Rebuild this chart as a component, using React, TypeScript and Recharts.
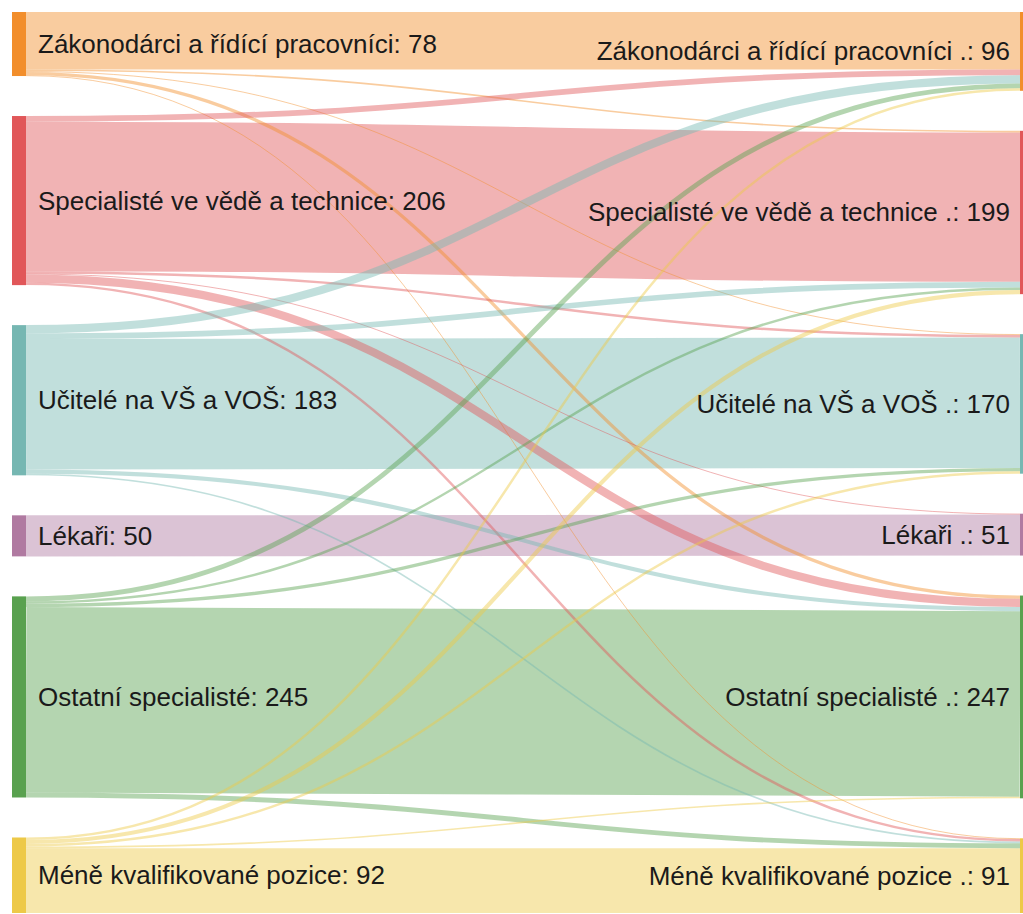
import { Sankey } from 'recharts';

// ── Data ───────────────────────────────────────────────────────────────────

const CATEGORIES = [
  'Zákonodárci a řídící pracovníci',
  'Specialisté ve vědě a technice',
  'Učitelé na VŠ a VOŠ',
  'Lékaři',
  'Ostatní specialisté',
  'Méně kvalifikované pozice',
];

// Tableau 10 colours, one per category
const COLORS = ['#F28E2B', '#E15759', '#76B7B2', '#B07AA1', '#59A14F', '#EDC948'];

// flows: row = source (left), column = target (right)
const FLOWS_ZAK = [70, 2, 1, 0, 4, 1];
const FLOWS_SPEC = [7, 182, 3, 1, 10, 3];
const FLOWS_UCIT = [10, 7, 159, 0, 5, 2];
const FLOWS_LEK = [0, 0, 0, 50, 0, 0];
const FLOWS_OST = [6, 3, 4, 0, 226, 6];
const FLOWS_MENE = [3, 5, 3, 0, 2, 79];

const FLOWS = [FLOWS_ZAK, FLOWS_SPEC, FLOWS_UCIT, FLOWS_LEK, FLOWS_OST, FLOWS_MENE];

// ── Sankey data ────────────────────────────────────────────────────────────

const n = CATEGORIES.length;
const nodes = [
  ...CATEGORIES.map((c) => ({ name: c })),
  ...CATEGORIES.map((c) => ({ name: `${c} .` })),
];

const selfLinks: { source: number; target: number; value: number }[] = [];
const crossLinks: { source: number; target: number; value: number }[] = [];
FLOWS.forEach((row, s) => {
  row.forEach((v, t) => {
    if (v <= 0) return;
    (s === t ? selfLinks : crossLinks).push({ source: s, target: n + t, value: v });
  });
});
// bands first, thin links painted on top
const links = [...selfLinks, ...crossLinks];

const colorOf = (name: string) => {
  const base = name.endsWith(' .') ? name.slice(0, -2) : name;
  return COLORS[CATEGORIES.indexOf(base)] ?? '#999';
};

// ── Renderers ──────────────────────────────────────────────────────────────

function FlowLink(props: any) {
  const { sourceX, sourceY, sourceControlX, targetX, targetY, targetControlX, linkWidth, payload } = props;
  const color = colorOf(payload.source.name);
  return (
    <path
      d={`M${sourceX},${sourceY} C${sourceControlX},${sourceY} ${targetControlX},${targetY} ${targetX},${targetY}`}
      fill="none"
      stroke={color}
      strokeOpacity={0.45}
      strokeWidth={Math.max(linkWidth, 1)}
    />
  );
}

function FlowNode(props: any) {
  const { x, y, width, height, payload } = props;
  const color = colorOf(payload.name);
  const left = payload.depth === 0;
  return (
    <g>
      <rect x={x} y={y} width={width} height={height} fill={color} />
      <text
        x={left ? x + width + 12 : x - 10}
        y={y + height / 2}
        textAnchor={left ? 'start' : 'end'}
        dominantBaseline="central"
        fontSize={26}
        fontFamily="'Liberation Sans', Arial, sans-serif"
        fill="#1a1a1a"
      >
        {`${payload.name}: ${payload.value}`}
      </text>
    </g>
  );
}

// ── Chart ──────────────────────────────────────────────────────────────────

export default function App() {
  return (
    <div
      style={{
        position: 'absolute', left: 0, top: 0,
        width: 1023, height: 914, overflow: 'hidden', background: '#fff',
      }}
    >
      <Sankey
        width={1034}
        height={914}
        data={{ nodes, links }}
        margin={{ top: 12, right: 0, bottom: 1, left: 12 }}
        nodeWidth={14}
        nodePadding={40}
        iterations={0}
        node={FlowNode}
        link={FlowLink}
      />
    </div>
  );
}
